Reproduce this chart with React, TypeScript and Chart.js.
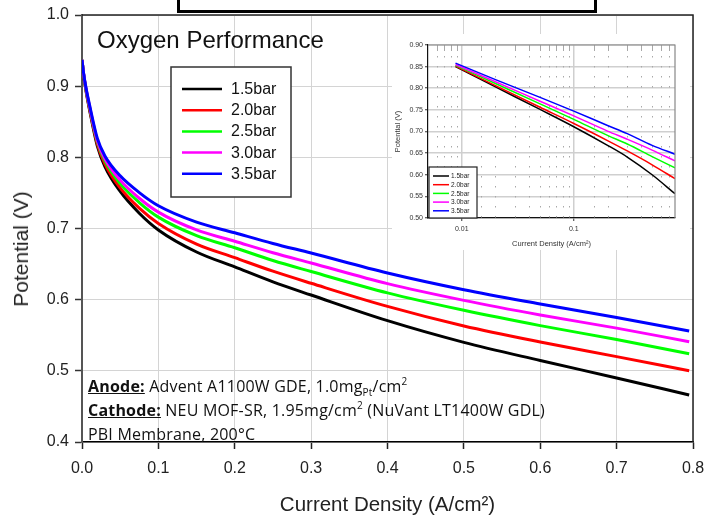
import React, { useEffect, useRef } from 'react';
import { Chart, registerables } from 'chart.js';

Chart.register(...registerables);

// ---------- data ----------
const seriesLabels = ['1.5bar', '2.0bar', '2.5bar', '3.0bar', '3.5bar'];
const seriesColors = ['#000000', '#ff0000', '#00ff00', '#ff00ff', '#0000ff'];

// main chart: current density (A/cm2) and potential (V)
const currentDensity = [0, 0.002, 0.005, 0.01, 0.02, 0.03, 0.05, 0.075, 0.1, 0.15, 0.2, 0.25, 0.3, 0.4, 0.5, 0.6, 0.7, 0.795];
const potential15 = [0.937, 0.917, 0.895, 0.866, 0.816, 0.787, 0.752, 0.7215, 0.698, 0.667, 0.646, 0.625, 0.6065, 0.5705, 0.540, 0.5145, 0.490, 0.466];
const potential20 = [0.937, 0.9175, 0.896, 0.868, 0.819, 0.791, 0.757, 0.7285, 0.707, 0.678, 0.659, 0.640, 0.623, 0.5905, 0.563, 0.5405, 0.520, 0.500];
const potential25 = [0.937, 0.918, 0.897, 0.870, 0.822, 0.795, 0.763, 0.7365, 0.716, 0.690, 0.673, 0.655, 0.6395, 0.6095, 0.585, 0.5635, 0.544, 0.524];
const potential30 = [0.937, 0.9185, 0.898, 0.871, 0.824, 0.798, 0.768, 0.7425, 0.723, 0.698, 0.682, 0.666, 0.6515, 0.6225, 0.599, 0.5785, 0.560, 0.541];
const potential35 = [0.937, 0.919, 0.899, 0.873, 0.827, 0.802, 0.774, 0.7505, 0.732, 0.709, 0.694, 0.679, 0.6655, 0.6375, 0.614, 0.594, 0.575, 0.556];

// inset chart (log x)
const insetCurrent = [0.0088, 0.02, 0.05, 0.1, 0.2, 0.3, 0.5, 0.8];
const insetPotential15 = [0.850, 0.803, 0.751, 0.711, 0.668, 0.641, 0.600, 0.556];
const insetPotential20 = [0.851, 0.806, 0.756, 0.7185, 0.679, 0.655, 0.623, 0.591];
const insetPotential25 = [0.853, 0.811, 0.764, 0.728, 0.691, 0.671, 0.642, 0.616];
const insetPotential30 = [0.855, 0.815, 0.770, 0.736, 0.701, 0.682, 0.657, 0.632];
const insetPotential35 = [0.858, 0.820, 0.779, 0.747, 0.714, 0.695, 0.668, 0.6475];

const mainSeries = [potential15, potential20, potential25, potential30, potential35];
const insetSeries = [insetPotential15, insetPotential20, insetPotential25, insetPotential30, insetPotential35];

const ARIAL = 'Arial, "Liberation Sans", sans-serif';

// ---------- plugins ----------
const boxLegend = {
  id: 'boxLegend',
  afterDatasetsDraw(chart: any, _args: any, o: any) {
    const ctx = chart.ctx;
    ctx.save();
    ctx.fillStyle = '#ffffff';
    ctx.fillRect(o.x, o.y, o.w, o.h);
    ctx.strokeStyle = o.borderColor;
    ctx.lineWidth = o.borderWidth;
    ctx.strokeRect(o.x, o.y, o.w, o.h);
    ctx.font = `${o.fontSize}px ${ARIAL}`;
    ctx.textBaseline = 'middle';
    ctx.textAlign = 'left';
    chart.data.datasets.forEach((ds: any, i: number) => {
      const yy = o.rowY0 + i * o.rowGap;
      ctx.strokeStyle = ds.borderColor;
      ctx.lineWidth = o.lineWidth;
      ctx.beginPath();
      ctx.moveTo(o.lineX0, yy);
      ctx.lineTo(o.lineX1, yy);
      ctx.stroke();
      ctx.fillStyle = o.textColor;
      ctx.fillText(ds.label, o.textX, yy + 0.5);
    });
    ctx.restore();
  },
};

const frame = {
  id: 'frame',
  afterDraw(chart: any, _args: any, o: any) {
    const { ctx, chartArea } = chart;
    const { left, right, top, bottom } = chartArea;
    ctx.save();
    ctx.strokeStyle = o.color;
    ctx.lineWidth = o.width;
    ctx.beginPath();
    ctx.moveTo(left, top);
    ctx.lineTo(right, top);
    ctx.lineTo(right, bottom);
    ctx.stroke();
    ctx.restore();
  },
};

const isPow10 = (v: number) => {
  const l = Math.log10(v);
  return Math.abs(l - Math.round(l)) < 1e-6;
};

const minorGrid = {
  id: 'minorGrid',
  beforeDatasetsDraw(chart: any) {
    const { ctx, chartArea } = chart;
    const xs = chart.scales.x;
    ctx.save();
    ctx.beginPath();
    ctx.rect(chartArea.left, chartArea.top, chartArea.right - chartArea.left, chartArea.bottom - chartArea.top);
    ctx.clip();
    xs.ticks.forEach((t: any) => {
      if (isPow10(t.value)) return;
      const px = Math.round(xs.getPixelForValue(t.value)) + 0.5;
      if (px <= chartArea.left + 1 || px >= chartArea.right - 1) return;
      ctx.strokeStyle = '#a8a8a8';
      ctx.lineWidth = 1;
      ctx.setLineDash([]);
      ctx.beginPath();
      ctx.moveTo(px, chartArea.top);
      ctx.lineTo(px, chartArea.top + 6);
      ctx.stroke();
      ctx.setLineDash([1.5, 8.5]);
      ctx.beginPath();
      ctx.moveTo(px, chartArea.top + 11);
      ctx.lineTo(px, chartArea.bottom);
      ctx.stroke();
    });
    ctx.restore();
  },
};

const noPadX = (h: number) => (s: any) => {
  s.height = h;
  s.paddingLeft = 0;
  s.paddingRight = 0;
};
const noPadY = (w: number) => (s: any) => {
  s.width = w;
  s.paddingTop = 0;
  s.paddingBottom = 0;
};

export default function App() {
  const mainRef = useRef<HTMLCanvasElement>(null);
  const insetRef = useRef<HTMLCanvasElement>(null);

  useEffect(() => {
    document.body.style.margin = '0';

    const mainChart = new Chart(mainRef.current as HTMLCanvasElement, {
      type: 'line',
      data: {
        datasets: mainSeries.map((vals, i) => ({
          label: seriesLabels[i],
          data: currentDensity.map((x, j) => ({ x, y: vals[j] })),
          borderColor: seriesColors[i],
          backgroundColor: seriesColors[i],
          borderWidth: 3,
          pointRadius: 0,
          cubicInterpolationMode: 'monotone',
          fill: false,
          order: 4 - i,
        })),
      },
      plugins: [boxLegend, frame],
      options: {
        responsive: false,
        animation: false,
        devicePixelRatio: 1,
        layout: { padding: { left: 0, right: 14, top: 15, bottom: 0 } },
        plugins: {
          legend: { display: false },
          tooltip: { enabled: false },
          boxLegend: {
            x: 171, y: 67, w: 120, h: 130,
            rowY0: 89, rowGap: 21.2,
            lineX0: 182, lineX1: 222, textX: 231,
            fontSize: 16, lineWidth: 2.5,
            borderColor: '#333', borderWidth: 1.5, textColor: '#111',
          },
          frame: { color: '#222', width: 1.5 },
        } as any,
        scales: {
          x: {
            type: 'linear',
            min: 0,
            max: 0.8,
            ticks: {
              stepSize: 0.1,
              callback: (v: any) => Number(v).toFixed(1),
              font: { family: ARIAL, size: 16 },
              color: '#222',
              padding: 10,
              maxRotation: 0,
            },
            grid: { color: '#d4d4d4', lineWidth: 1, tickLength: 7, tickColor: '#222', tickWidth: 1.5 },
            border: { color: '#000', width: 1.5 },
            title: {
              display: true,
              text: 'Current Density (A/cm²)',
              font: { family: ARIAL, size: 20.5 },
              color: '#222',
              padding: { top: 0, bottom: 0 },
            },
            afterFit: noPadX(76),
          },
          y: {
            type: 'linear',
            min: 0.4,
            max: 1.0,
            ticks: {
              stepSize: 0.1,
              callback: (v: any) => Number(v).toFixed(1),
              font: { family: ARIAL, size: 16 },
              color: '#222',
              padding: 6,
            },
            grid: { color: '#d4d4d4', lineWidth: 1, tickLength: 7, tickColor: '#333', tickWidth: 1.5 },
            border: { color: '#555', width: 2 },
            title: { display: false },
            afterFit: noPadY(82),
          },
        },
      } as any,
    });

    const insetChart = new Chart(insetRef.current as HTMLCanvasElement, {
      type: 'line',
      data: {
        datasets: insetSeries.map((vals, i) => ({
          label: seriesLabels[i],
          data: insetCurrent.map((x, j) => ({ x, y: vals[j] })),
          borderColor: seriesColors[i],
          backgroundColor: seriesColors[i],
          borderWidth: 1.5,
          pointRadius: 0,
          cubicInterpolationMode: 'monotone',
          fill: false,
          order: 4 - i,
        })),
      },
      plugins: [minorGrid, boxLegend, frame],
      options: {
        responsive: false,
        animation: false,
        devicePixelRatio: 1,
        layout: { padding: { left: 0, right: 15, top: 11, bottom: 0 } },
        plugins: {
          legend: { display: false },
          tooltip: { enabled: false },
          boxLegend: {
            x: 37, y: 133, w: 48, h: 51,
            rowY0: 142, rowGap: 8.7,
            lineX0: 41, lineX1: 57, textX: 59,
            fontSize: 6.5, lineWidth: 1.5,
            borderColor: '#222', borderWidth: 1.2, textColor: '#222',
          },
          frame: { color: '#888', width: 1.2 },
        } as any,
        scales: {
          x: {
            type: 'logarithmic',
            min: 0.005,
            max: 0.8,
            ticks: {
              autoSkip: false,
              maxRotation: 0,
              callback: (v: any) => (isPow10(Number(v)) ? String(Number(v)) : ''),
              font: { family: ARIAL, size: 7 },
              color: '#333',
              padding: 4,
            },
            grid: {
              color: (c: any) => (c.tick && isPow10(c.tick.value) ? '#cfcfcf' : 'rgba(0,0,0,0)'),
              lineWidth: 1.5,
              tickLength: 3,
              tickColor: (c: any) => (c.tick && isPow10(c.tick.value) ? '#333' : 'rgba(0,0,0,0)'),
              tickWidth: 1,
            },
            border: { color: '#111', width: 1.2 },
            title: {
              display: true,
              text: 'Current Density (A/cm²)',
              font: { family: ARIAL, size: 7.5 },
              color: '#333',
              padding: { top: 0, bottom: 2 },
            },
            afterFit: noPadX(32),
          },
          y: {
            type: 'linear',
            min: 0.5,
            max: 0.9,
            ticks: {
              stepSize: 0.05,
              callback: (v: any) => Number(v).toFixed(2),
              font: { family: ARIAL, size: 7 },
              color: '#333',
              padding: 2,
            },
            grid: { color: '#cfcfcf', lineWidth: 1.5, tickLength: 3, tickColor: '#333', tickWidth: 1 },
            border: { color: '#111', width: 1.2 },
            title: {
              display: true,
              text: 'Potential (V)',
              font: { family: ARIAL, size: 7.5 },
              color: '#333',
              padding: { top: 1, bottom: 0 },
            },
            afterFit: noPadY(36),
          },
        },
      } as any,
    });

    return () => {
      mainChart.destroy();
      insetChart.destroy();
    };
  }, []);

  const subStyle: React.CSSProperties = { fontSize: 10, position: 'relative', top: 4, lineHeight: 0 };
  const supStyle: React.CSSProperties = { fontSize: 10, position: 'relative', top: -7, lineHeight: 0 };

  return (
    <div style={{ position: 'absolute', left: 0, top: 0, width: 707, height: 518, overflow: 'hidden', background: '#fff' }}>
      <canvas ref={mainRef} width={707} height={518} style={{ position: 'absolute', left: 0, top: 0, width: 707, height: 518 }} />
      <div style={{ position: 'absolute', left: 392, top: 34, width: 298, height: 216, background: '#fff' }}>
        <canvas ref={insetRef} width={298} height={216} style={{ position: 'absolute', left: 0, top: 0, width: 298, height: 216 }} />
      </div>
      <div
        style={{
          position: 'absolute', left: 177, top: -10, width: 420, height: 23,
          boxSizing: 'border-box', border: '3px solid #000', background: '#fff',
        }}
      />
      <div
        style={{
          position: 'absolute', left: 97, top: 26, fontFamily: ARIAL, fontSize: 24,
          lineHeight: '28px', color: '#111', whiteSpace: 'nowrap',
        }}
      >
        Oxygen Performance
      </div>
      <div
        style={{
          position: 'absolute', left: 21, top: 249, width: 0, height: 0,
        }}
      >
        <div
          style={{
            position: 'absolute', left: 0, top: 0, transform: 'translate(-50%, -50%) rotate(-90deg)',
            fontFamily: ARIAL, fontSize: 21, lineHeight: '24px', color: '#222', whiteSpace: 'nowrap',
          }}
        >
          Potential (V)
        </div>
      </div>
      <div
        style={{
          position: 'absolute', left: 88, top: 374, fontFamily: '"Open Sans", sans-serif',
          fontSize: 16, letterSpacing: '0.2px', lineHeight: '24px', color: '#111', whiteSpace: 'nowrap',
        }}
      >
        <div>
          <b><u>Anode:</u></b> Advent A1100W GDE, 1.0mg<span style={subStyle}>Pt</span>/cm<span style={supStyle}>2</span>
        </div>
        <div>
          <b><u>Cathode:</u></b> NEU MOF-SR, 1.95mg/cm<span style={supStyle}>2</span> (NuVant LT1400W GDL)
        </div>
        <div>PBI Membrane, 200°C</div>
      </div>
    </div>
  );
}
